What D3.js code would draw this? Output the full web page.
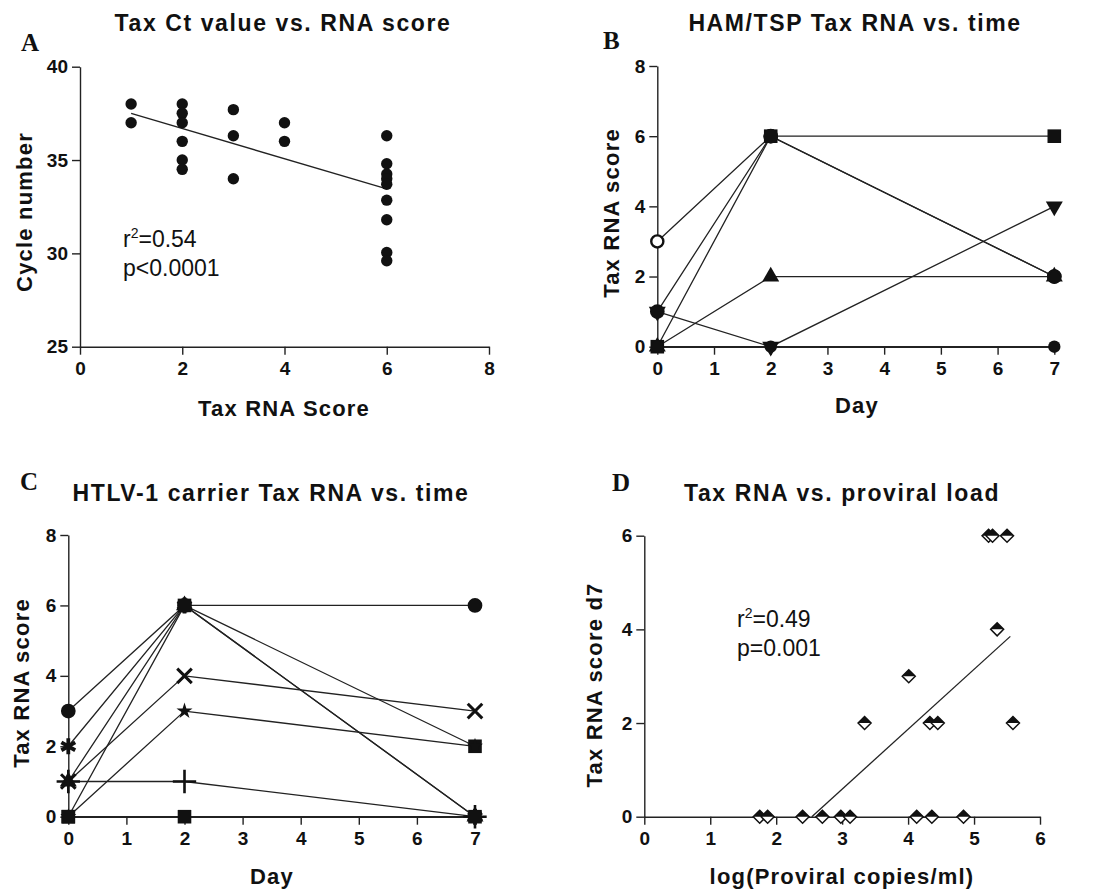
<!DOCTYPE html>
<html>
<head>
<meta charset="utf-8">
<script src="https://cdn.jsdelivr.net/npm/d3@7"></script>
<style>
  body { margin: 0; background: #fff; }
  svg text { font-family: "Liberation Sans", Arial, sans-serif; fill: #111; }
  .tick text { font-weight: bold; font-size: 19px; }
  .domain, .tick line { stroke: #222; stroke-width: 1.4; }
  .ttl { font-weight: bold; font-size: 23px; letter-spacing: 1.6px; }
  .lab { font-weight: bold; font-size: 22px; letter-spacing: 1.2px; }
  .ann { font-size: 23px; }
  .letter { font-family: "Liberation Serif", "Times New Roman", serif !important; font-weight: bold; font-size: 25px; }
</style>
</head>
<body>
<svg id="fig" width="1095" height="892"></svg>
<script>
// ---- data ----
// A: Tax Ct value vs RNA score
const ctScore = [1, 1, 2, 2, 2, 2, 2, 2, 3, 3, 3, 4, 4, 6, 6, 6, 6, 6, 6, 6, 6, 6];
const ctCycle = [38, 37, 38, 37.5, 37, 36, 35, 34.5, 37.7, 36.3, 34, 37, 36,
                 36.3, 34.8, 34.25, 34, 33.7, 32.85, 31.8, 30.05, 29.6];
const ctFit = [[1, 37.5], [6, 33.45]];

// B, C: score by day
const days = [0, 2, 7];
const hamNames = ["square", "openCircle", "circle", "triangle", "triangleDown", "dot"];
const hamScores = [
  [0, 6, 6],
  [3, 6, 2],
  [1, 6, 2],
  [0, 2, 2],
  [1, 0, 4],
  [0, 0, 0]
];
const carrierNames = ["circle", "asterisk", "triangle", "square", "times", "star", "plus", "squareDot"];
const carrierScores = [
  [3, 6, 6],
  [2, 6, 0],
  [1, 6, 0],
  [0, 6, 2],
  [1, 4, 3],
  [0, 3, 2],
  [1, 1, 0],
  [0, 0, 0]
];

// D: Tax RNA d7 vs proviral load
const pvlLog = [1.75, 1.87, 2.40, 2.70, 2.98, 3.12, 4.13, 4.36, 4.84,
                3.34, 4.33, 4.45, 5.59, 4.01, 5.35, 5.22, 5.28, 5.50];
const pvlScore = [0, 0, 0, 0, 0, 0, 0, 0, 0, 2, 2, 2, 2, 3, 4, 6, 6, 6];
const pvlFit = [[2.54, 0], [5.55, 3.85]];

// ---- drawing ----
const svg = d3.select("#fig");

// marker look per series name
const markers = {
  square:       { type: d3.symbolSquare, size: 185, fill: "#111" },
  openCircle:   { type: d3.symbolCircle, size: 115, fill: "#fff", stroke: "#111", sw: 2.4 },
  circle:       { type: d3.symbolCircle, size: 170, fill: "#111" },
  dot:          { type: d3.symbolCircle, size: 120, fill: "#111" },
  triangle:     { type: d3.symbolTriangle, size: 125, fill: "#111" },
  triangleDown: { type: d3.symbolTriangle, size: 125, fill: "#111", rot: 180 },
  asterisk:     { type: d3.symbolAsterisk, size: 180, fill: "none", stroke: "#111", sw: 3.8 },
  times:        { type: d3.symbolTimes, size: 140, fill: "none", stroke: "#111", sw: 3 },
  star:         { type: d3.symbolStar, size: 80, fill: "#111" },
  plus:         { type: d3.symbolPlus, size: 180, fill: "none", stroke: "#111", sw: 2.6 },
  squareDot:    { type: d3.symbolSquare, size: 185, fill: "#111" }
};

const fmt = d3.format("d");

function frame(g, x, y, xTicks, yTicks) {
  g.append("g")
    .attr("transform", `translate(0,${y.range()[0]})`)
    .call(d3.axisBottom(x).tickValues(xTicks).tickFormat(fmt).tickSize(8).tickSizeOuter(0).tickPadding(7));
  g.append("g")
    .attr("transform", `translate(${x.range()[0]},0)`)
    .call(d3.axisLeft(y).tickValues(yTicks).tickFormat(fmt).tickSize(8).tickSizeOuter(0).tickPadding(4));
}

function titles(g, opt) {
  g.append("text").attr("class", "ttl").attr("x", opt.tx).attr("y", opt.ty)
    .attr("text-anchor", "middle").text(opt.title);
  g.append("text").attr("class", "letter").attr("x", opt.lx).attr("y", opt.ly).text(opt.letter);
  g.append("text").attr("class", "lab").attr("x", opt.xlx).attr("y", opt.xly)
    .attr("text-anchor", "middle").text(opt.xlab);
  g.append("text").attr("class", "lab")
    .attr("transform", `translate(${opt.ylx},${opt.yly}) rotate(-90)`)
    .attr("text-anchor", "middle").text(opt.ylab);
}

function stats(g, x0, y0, r2, p) {
  const t = g.append("text").attr("class", "ann").attr("x", x0).attr("y", y0);
  t.append("tspan").text("r");
  t.append("tspan").attr("dy", -9).attr("font-size", 14).text("2");
  t.append("tspan").attr("dy", 9).text("=" + r2);
  g.append("text").attr("class", "ann").attr("x", x0).attr("y", y0 + 29).text(p);
}

function fitLine(g, x, y, pts) {
  g.append("path")
    .attr("d", d3.line().x(d => x(d[0])).y(d => y(d[1]))(pts))
    .attr("fill", "none").attr("stroke", "#222").attr("stroke-width", 1.3);
}

// Panel A
function panelA() {
  const g = svg.append("g");
  const x = d3.scaleLinear().domain([0, 8]).range([80, 489]);
  const y = d3.scaleLinear().domain([25, 40]).range([346.7, 66.7]);
  frame(g, x, y, [0, 2, 4, 6, 8], [25, 30, 35, 40]);
  fitLine(g, x, y, ctFit);
  g.append("g").selectAll("circle")
    .data(ctScore.map((s, i) => [s, ctCycle[i]]))
    .join("circle")
    .attr("cx", d => x(d[0])).attr("cy", d => y(d[1])).attr("r", 5.7)
    .attr("fill", "#111");
  stats(g, 123, 247, "0.54", "p<0.0001");
  titles(g, {
    title: "Tax Ct value vs. RNA score", tx: 283, ty: 31,
    letter: "A", lx: 21, ly: 51,
    xlab: "Tax RNA Score", xlx: 284, xly: 416,
    ylab: "Cycle number", ylx: 32, yly: 212
  });
}

function timePanel(names, scores, rect, opt) {
  const g = svg.append("g");
  const x = d3.scaleLinear().domain([0, 7]).range([rect.left, rect.right]);
  const y = d3.scaleLinear().domain([0, 8]).range([rect.bottom, rect.top]);
  frame(g, x, y, d3.range(0, 8), [0, 2, 4, 6, 8]);
  const line = d3.line().x((d, i) => x(days[i])).y(d => y(d));
  g.append("g").selectAll("path")
    .data(scores)
    .join("path")
    .attr("d", d => line(d))
    .attr("fill", "none").attr("stroke", "#222").attr("stroke-width", 1.3);
  scores.forEach((s, k) => {
    const m = markers[names[k]];
    g.append("g").selectAll("path")
      .data(s)
      .join("path")
      .attr("d", d3.symbol().type(m.type).size(m.size))
      .attr("transform", (d, i) => `translate(${x(days[i])},${y(d)}) rotate(${m.rot || 0})`)
      .attr("fill", m.fill)
      .attr("stroke", m.stroke || "none")
      .attr("stroke-width", m.sw || 0);
  });
  titles(g, opt);
}

// Panel D
function panelD() {
  const g = svg.append("g");
  const x = d3.scaleLinear().domain([0, 6]).range([644.3, 1040]);
  const y = d3.scaleLinear().domain([0, 6]).range([816.7, 535.7]);
  frame(g, x, y, d3.range(0, 7), [0, 2, 4, 6]);
  fitLine(g, x, y, pvlFit);
  const h = 6.5;
  const pts = g.append("g").selectAll("g")
    .data(pvlLog.map((v, i) => [v, pvlScore[i]]))
    .join("g")
    .attr("transform", d => `translate(${x(d[0])},${y(d[1])})`);
  pts.append("path")
    .attr("d", `M0,${-h}L${h},0L0,${h}L${-h},0Z`)
    .attr("fill", "#fff").attr("stroke", "#111").attr("stroke-width", 1.5);
  pts.append("path")
    .attr("d", `M0,${-h}L${h},0L${-h},0Z`)
    .attr("fill", "#111");
  stats(g, 737, 627, "0.49", "p=0.001");
  titles(g, {
    title: "Tax RNA vs. proviral load", tx: 842, ty: 501,
    letter: "D", lx: 612, ly: 491,
    xlab: "log(Proviral copies/ml)", xlx: 842, xly: 884,
    ylab: "Tax RNA score d7", ylx: 602, yly: 685
  });
}

panelA();
timePanel(hamNames, hamScores, { left: 657.3, right: 1054.3, top: 66, bottom: 346.7 }, {
  title: "HAM/TSP Tax RNA vs. time", tx: 855, ty: 31,
  letter: "B", lx: 603, ly: 49,
  xlab: "Day", xlx: 857, xly: 413,
  ylab: "Tax RNA score", ylx: 619, yly: 213
});
timePanel(carrierNames, carrierScores, { left: 68.3, right: 475, top: 535, bottom: 816.7 }, {
  title: "HTLV-1 carrier Tax RNA vs. time", tx: 271, ty: 501,
  letter: "C", lx: 20, ly: 490,
  xlab: "Day", xlx: 272, xly: 884,
  ylab: "Tax RNA score", ylx: 29, yly: 683
});
panelD();
</script>
</body>
</html>
